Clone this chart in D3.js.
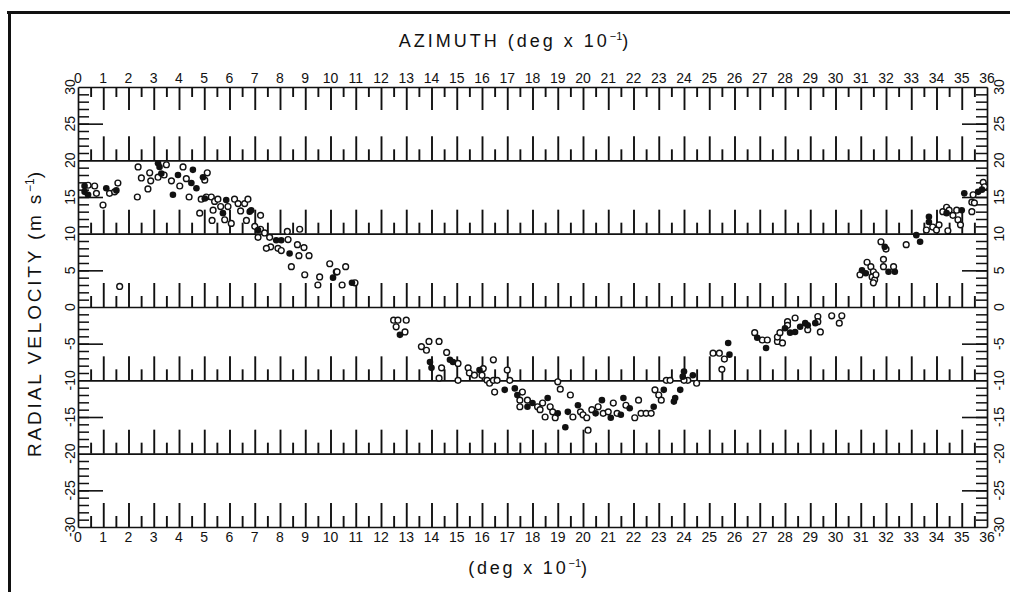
<!DOCTYPE html>
<html>
<head>
<meta charset="utf-8">
<script src="https://cdn.jsdelivr.net/npm/d3@7"></script>
<style>
  html, body { margin: 0; padding: 0; background: #fff; }
  svg { display: block; }
  text { font-family: "Liberation Sans", Arial, sans-serif; fill: #111; }
</style>
</head>
<body>
<svg id="chart" width="1010" height="592"></svg>
<script>
// ---------- DATA ----------
const azimuthLabels = [0,1,2,3,4,5,6,7,8,9,10,11,12,13,14,15,16,17,18,19,20,21,22,23,24,25,26,27,28,29,30,31,32,33,34,35,36];
const velocityLabels = [30,25,20,15,10,5,0,-5,-10,-15,-20,-25,-30];
const ruledLines = [20,10,0,-10,-20,-30];
const majorAzTicks = [1,2,3,4,5,6,7,8,9,10,11,12,13,14,15,16,17,18,19,20,21,22,23,24,25,26,27,28,29,30,31,32,33,34,35];
const minorAzTicks = [0.5,1.5,2.5,3.5,4.5,5.5,6.5,7.5,8.5,9.5,10.5,11.5,12.5,13.5,14.5,15.5,16.5,17.5,18.5,19.5,20.5,21.5,22.5,23.5,24.5,25.5,26.5,27.5,28.5,29.5,30.5,31.5,32.5,33.5,34.5,35.5];
const minorVelTicks = [29,28,27,26,25,24,23,22,21,19,18,17,16,15,14,13,12,11,9,8,7,6,5,4,3,2,1,-1,-2,-3,-4,-5,-6,-7,-8,-9,-11,-12,-13,-14,-15,-16,-17,-18,-19,-21,-22,-23,-24,-25,-26,-27,-28,-29];
const longVelTicks = [25,15,5,-5,-15,-25];

// open circles: [azimuth (deg x 10^-1), radial velocity (m/s)]
const openPoints = [
 [0.40,16.6],[0.66,16.5],[0.73,15.5],[0.99,13.9],[1.25,15.5],[1.45,15.7],[1.58,16.9],[1.65,2.8],
 [2.38,19.1],[2.35,15.0],[2.51,17.6],[2.84,18.3],[2.88,17.2],[2.77,16.1],[3.50,19.4],[3.41,18.0],
 [3.17,17.7],[3.70,17.2],[4.03,16.5],[4.16,19.1],[4.29,17.5],[4.40,15.0],[5.02,17.3],[5.12,18.3],
 [4.82,12.8],[4.88,14.7],[5.08,15.0],[5.28,15.0],[5.41,14.4],[5.35,13.2],[5.31,11.8],[5.54,14.7],
 [5.65,13.7],[5.94,13.7],[5.81,11.9],[6.07,11.4],[6.20,14.7],[6.34,14.1],[6.44,13.1],[6.60,14.1],
 [6.73,14.7],[6.67,11.8],[7.00,11.0],[7.23,12.5],[7.23,10.6],[7.13,9.5],[7.39,10.1],[7.59,9.5],
 [7.63,8.2],[7.46,8.0],[7.92,8.0],[8.32,9.2],[8.05,7.7],[8.69,8.5],[8.95,8.1],[8.75,7.0],
 [9.15,7.0],[8.45,5.5],[8.98,4.4],[9.57,4.1],[9.50,3.0],[9.97,5.9],[10.23,4.8],[8.29,10.3],
 [8.78,10.6],[10.26,4.8],[10.46,3.0],[10.6,5.5],[10.97,3.3],
 [12.5,-1.8],[12.67,-1.8],[13.0,-1.8],[12.6,-2.7],[12.95,-3.4],
 [13.6,-5.4],[13.9,-4.7],[14.3,-4.7],[13.8,-5.9],[14.4,-8.3],[14.3,-9.7],[14.6,-6.2],[15.05,-7.7],
 [15.05,-10.0],[15.45,-8.3],[15.5,-9.0],[15.7,-9.3],[16.05,-8.4],[16.0,-9.3],[16.2,-10.0],[16.3,-10.4],
 [16.45,-10.0],[16.6,-10.0],[16.45,-7.2],[16.5,-11.6],[17.0,-8.6],[17.1,-10.0],[17.6,-11.6],[17.5,-12.7],
 [17.5,-13.6],[17.8,-12.7],[18.2,-13.6],[18.3,-14.0],[18.4,-13.1],[18.5,-15.0],[18.7,-13.6],[18.8,-14.3],
 [18.9,-15.1],[19.0,-10.2],[19.1,-11.2],[19.5,-12.0],[19.6,-15.0],[19.9,-14.3],[20.0,-14.7],[20.15,-15.1],
 [20.2,-16.8],[20.35,-14.0],[20.6,-13.6],[20.8,-14.5],[21.0,-14.3],[21.2,-13.1],[21.35,-14.5],[21.7,-13.4],
 [22.05,-15.1],[22.2,-12.7],[22.3,-14.5],[22.5,-14.5],[22.7,-14.5],[22.85,-11.3],[23.0,-12.0],[23.1,-12.7],
 [23.3,-10.0],[23.45,-10.0],[24.15,-10.0],[24.5,-10.4],[24.0,-10.0],
 [25.15,-6.3],[25.4,-6.3],[25.6,-7.1],[25.5,-8.5],[26.8,-3.5],[27.1,-4.5],[27.3,-4.5],[27.7,-4.7],
 [27.7,-4.1],[27.9,-4.9],[27.8,-3.5],[28.1,-2.0],[28.1,-2.5],[28.4,-1.5],[28.9,-3.1],[29.3,-1.3],
 [29.3,-2.0],[29.4,-3.4],[29.85,-1.2],[30.25,-1.2],[30.15,-2.2],
 [30.97,4.4],[31.25,6.1],[31.4,5.5],[31.5,4.8],[31.45,4.1],[31.55,3.7],[31.6,4.4],[31.5,3.3],
 [31.8,8.9],[32.0,7.9],[31.9,6.5],[31.9,5.5],[32.3,5.5],[32.8,8.5],[33.6,10.5],[33.85,10.9],
 [34.0,10.5],[34.1,11.2],[34.25,13.0],[34.4,13.6],[34.5,13.2],[34.45,10.4],[34.65,12.5],[34.8,13.2],
 [34.85,11.9],[34.95,11.2],[35.4,14.3],[35.45,15.3],[35.4,13.0],[35.5,14.2],[35.85,17.0],[35.9,16.4]
];
// filled circles
const filledPoints = [
 [0.26,16.5],[0.26,15.7],[0.40,15.3],[1.12,16.2],[1.52,15.9],[3.17,19.6],[3.23,19.1],[3.30,18.2],
 [3.76,15.3],[3.96,18.0],[4.55,18.7],[4.49,16.9],[4.69,16.2],[4.95,17.7],[5.02,14.8],[5.74,12.8],
 [5.87,14.6],[6.80,13.0],[6.86,13.2],[7.13,10.5],[7.85,9.1],[8.05,9.1],[8.38,7.3],[10.1,4.0],
 [10.85,3.3],[12.75,-3.8],[13.94,-7.5],[14.0,-8.3],[14.73,-7.2],[14.85,-7.5],[15.9,-8.6],[16.9,-11.3],
 [17.3,-11.1],[17.4,-12.0],[17.8,-13.6],[18.0,-13.1],[18.6,-12.4],[19.0,-14.5],[19.3,-16.4],[19.4,-14.3],
 [19.8,-13.4],[20.5,-14.5],[20.75,-12.7],[21.1,-15.1],[21.5,-14.7],[21.6,-12.4],[21.85,-13.8],[22.8,-13.6],
 [23.2,-11.3],[23.6,-12.9],[23.65,-12.4],[23.85,-11.3],[24.0,-8.8],[24.35,-9.3],[23.95,-9.5],
 [25.8,-6.5],[25.75,-4.9],[26.9,-4.2],[27.25,-5.6],[28.0,-2.9],[28.2,-3.5],[28.4,-3.4],[28.6,-2.7],
 [28.8,-2.2],[28.9,-2.5],[29.2,-2.2],[31.2,4.6],[31.05,5.0],[31.95,8.2],[32.1,4.8],[32.35,4.8],
 [33.2,9.8],[33.35,8.9],[33.7,12.3],[33.7,11.6],[34.4,12.8],[35.0,13.2],[35.1,15.5],[35.65,15.7],
 [35.8,16.0]
];

// ---------- DRAW ----------
const svg = d3.select("#chart");
const x = d3.scaleLinear().domain([0, 36]).range([78, 987]);
const y = d3.scaleLinear().domain([-30, 30]).range([527, 87]);

// page frame (top and left rules of the scanned figure)
svg.append("line").attr("x1", 7).attr("x2", 1010).attr("y1", 12.5).attr("y2", 12.5)
  .attr("stroke", "#111").attr("stroke-width", 3);
svg.append("line").attr("x1", 9.5).attr("x2", 9.5).attr("y1", 11).attr("y2", 592)
  .attr("stroke", "#111").attr("stroke-width", 3);

function styleAxis(g, w) {
  g.selectAll(".domain").attr("stroke", "#111").attr("stroke-width", 1.7);
  g.selectAll(".tick line").attr("stroke", "#111").attr("stroke-width", w);
  g.selectAll(".tick text").remove();
}

// ruled lines with upward ticks
ruledLines.forEach(v => {
  const gMaj = svg.append("g").attr("transform", `translate(0,${y(v)})`)
    .call(d3.axisTop(x).tickValues(majorAzTicks).tickSize(24).tickSizeOuter(0).tickFormat(""));
  styleAxis(gMaj, 1.9);
  const gMin = svg.append("g").attr("transform", `translate(0,${y(v)})`)
    .call(d3.axisTop(x).tickValues(minorAzTicks).tickSize(11).tickSizeOuter(0).tickFormat(""));
  gMin.select(".domain").remove();
  styleAxis(gMin, 1.9);
});

// top axis (30) with downward ticks
const gTop = svg.append("g").attr("transform", `translate(0,${y(30)})`)
  .call(d3.axisBottom(x).tickValues(majorAzTicks).tickSize(23).tickSizeOuter(0).tickFormat(""));
styleAxis(gTop, 1.9);
const gTopMin = svg.append("g").attr("transform", `translate(0,${y(30)})`)
  .call(d3.axisBottom(x).tickValues(minorAzTicks).tickSize(10).tickSizeOuter(0).tickFormat(""));
gTopMin.select(".domain").remove();
styleAxis(gTopMin, 1.9);

// left and right velocity axes
[[78, d3.axisRight], [987, d3.axisLeft]].forEach(([px, axisFn]) => {
  const gA = svg.append("g").attr("transform", `translate(${px},0)`)
    .call(axisFn(y).tickValues(minorVelTicks).tickSize(11).tickSizeOuter(0).tickFormat(""));
  styleAxis(gA, 1.5);
  const gB = svg.append("g").attr("transform", `translate(${px},0)`)
    .call(axisFn(y).tickValues(longVelTicks).tickSize(25).tickSizeOuter(0).tickFormat(""));
  gB.select(".domain").remove();
  styleAxis(gB, 1.6);
});

// azimuth labels top and bottom
const labelFont = 14;
svg.append("g").selectAll("text").data(azimuthLabels).join("text")
  .attr("x", d => x(d)).attr("y", 83).attr("text-anchor", "middle")
  .attr("font-size", labelFont).text(d => d);
svg.append("g").selectAll("text").data(azimuthLabels).join("text")
  .attr("x", d => x(d)).attr("y", 542).attr("text-anchor", "middle")
  .attr("font-size", labelFont).text(d => d);

// velocity labels, rotated, on both sides
[70, 999].forEach(cx => {
  svg.append("g").selectAll("text").data(velocityLabels).join("text")
    .attr("transform", d => `translate(${cx + 5},${y(d)}) rotate(-90)`)
    .attr("text-anchor", "middle").attr("font-size", labelFont).text(d => d);
});

// titles
const title = svg.append("text").attr("x", 515).attr("y", 47).attr("text-anchor", "middle")
  .attr("font-size", 18).attr("letter-spacing", 3);
title.append("tspan").text("AZIMUTH (deg x 10");
title.append("tspan").attr("dy", -7).attr("font-size", 11).attr("letter-spacing", 0).text("−1");
title.append("tspan").attr("dy", 7).text(")");

const sub = svg.append("text").attr("x", 529).attr("y", 574).attr("text-anchor", "middle")
  .attr("font-size", 18).attr("letter-spacing", 2.8);
sub.append("tspan").text("(deg x 10");
sub.append("tspan").attr("dy", -7).attr("font-size", 11).attr("letter-spacing", 0).text("−1");
sub.append("tspan").attr("dy", 7).text(")");

const yl = svg.append("text").attr("transform", "translate(41,313) rotate(-90)")
  .attr("text-anchor", "middle").attr("font-size", 19).attr("letter-spacing", 2.8);
yl.append("tspan").text("RADIAL VELOCITY (m s");
yl.append("tspan").attr("dy", -7).attr("font-size", 12).attr("letter-spacing", 0).text("−1");
yl.append("tspan").attr("dy", 7).text(")");

// points
svg.append("g").selectAll("circle").data(openPoints).join("circle")
  .attr("cx", d => x(d[0])).attr("cy", d => y(d[1])).attr("r", 2.9)
  .attr("fill", "#fff").attr("stroke", "#111").attr("stroke-width", 1.4);
svg.append("g").selectAll("circle").data(filledPoints).join("circle")
  .attr("cx", d => x(d[0])).attr("cy", d => y(d[1])).attr("r", 3.3)
  .attr("fill", "#111");
</script>
</body>
</html>
